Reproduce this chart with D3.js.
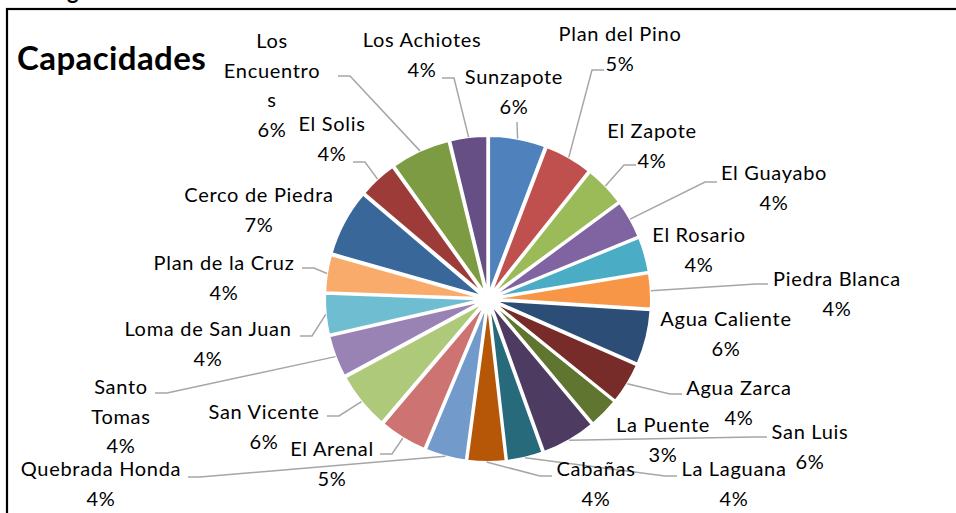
<!DOCTYPE html>
<html>
<head>
<meta http-equiv="Content-Type" content="text/html; charset=UTF-8">
<style>
  body { margin: 0; background: #fff; }
  svg text { font-family: Lato, "Open Sans", sans-serif; fill: #000; }
</style>
</head>
<body>
<svg width="956" height="513"></svg>
<script src="https://cdn.jsdelivr.net/npm/d3@7"></script>
<script>

// slices, clockwise from 12 o'clock
var names = ["Sunzapote", "Plan del Pino", "El Zapote", "El Guayabo", "El Rosario",
    "Piedra Blanca", "Agua Caliente", "Agua Zarca", "La Puente", "San Luis",
    "La Laguana", "Cabañas", "Quebrada Honda", "El Arenal", "San Vicente",
    "Santo Tomas", "Loma de San Juan", "Plan de la Cruz", "Cerco de Piedra",
    "El Solis", "Los Encuentros", "Los Achiotes"];

var values = [5.8, 4.9, 4.2, 3.9, 3.6, 3.6, 5.6, 4.2, 3.1, 5.6, 3.7,
    3.9, 4.2, 4.9, 5.9, 4.3, 4.2, 3.8, 6.8, 3.9, 6.1, 3.8];

// how the label text wraps (Excel label box)
var labelLines = {
    "Los Encuentros": ["Los", "Encuentro", "s"],
    "Santo Tomas": ["Santo", "Tomas"]
};

var colors = ["#4f81bd", "#c0504d", "#9bbb59", "#8064a2", "#4bacc6", "#f79646",
    "#2c4d75", "#772c2a", "#5f7530", "#4d3b62", "#276a7c", "#b65708",
    "#729aca", "#cd7371", "#afc97a", "#9983b5", "#6fbdd1", "#f9ab6b",
    "#3a6799", "#9c3b38", "#7d9b42", "#654f84"];

// label boxes were placed by hand: centre x, middle of first line
var labelPos = [[514, 77], [620, 34], [652, 131], [774, 173], [699, 235],
    [837, 279], [726, 319], [739, 388], [663, 425], [810, 432],
    [734, 469], [596, 469], [101, 469], [332, 449], [264, 412],
    [121, 387], [208, 329], [224, 263], [259, 195], [332, 124],
    [272, 41], [422, 40]];

// leader line end next to the label: x, y, side of elbow (null = no leader)
var leaderEnd = [[517, 122, 0], [604, 70, -1], [636, 165, -1], [717, 182, -1], null,
    [768, 284, -1], null, [682, 394, -1], null, [767, 437, -1],
    [677, 476, -1], [552, 476, -1], [188, 477, 1], [380, 454, 1], [327, 416, 1],
    [155, 393, 1], [300, 336, 1], [302, 268, 1], null, [353, 162, 1],
    [338, 76, 1], [442, 78, 1]];

var svg = d3.select("svg"),
    cx = 488, cy = 299,
    radius = 157,
    explode = 6,
    lineH = 29.5;

var total = d3.sum(values),
    pct = d3.format(".0%");

// chart frame (runs off the right and bottom of the shot)
svg.append("rect")
    .attr("x", 7).attr("y", 9)
    .attr("width", 980).attr("height", 540)
    .style("fill", "none")
    .style("stroke", "#000")
    .style("stroke-width", 2.2);

// descender of the figure caption above the frame
svg.append("text")
    .attr("x", 67).attr("y", -1)
    .style("font-weight", "bold")
    .style("font-size", "22px")
    .text("g");

svg.append("text")
    .attr("x", 17).attr("y", 70)
    .style("font-weight", "bold")
    .style("font-size", "33px")
    .style("letter-spacing", "0.4px")
    .text("Capacidades");

var pie = d3.pie().sort(null).value(function(d) { return d; });
var arc = d3.arc().innerRadius(0).outerRadius(radius);

var arcs = pie(values);

function mid(d) { return (d.startAngle + d.endAngle) / 2; }

var g = svg.append("g")
    .attr("transform", "translate(" + cx + "," + cy + ")");

g.selectAll(".slice")
    .data(arcs)
    .enter().append("path")
      .attr("class", "slice")
      .attr("transform", function(d) {
        var a = mid(d);
        return "translate(" + (explode * Math.sin(a)) + "," + (-explode * Math.cos(a)) + ")";
      })
      .attr("d", arc)
      .style("fill", function(d, i) { return colors[i]; })
      .style("stroke", "#fff")
      .style("stroke-width", 2);

// leader lines
var leaders = svg.append("g");
arcs.forEach(function(d, i) {
    var end = leaderEnd[i];
    if (!end) return;
    var a = mid(d),
        r = radius + explode,
        sx = cx + r * Math.sin(a),
        sy = cy - r * Math.cos(a);
    var pts = [[sx, sy], [end[0] + end[2] * 12, end[1]], [end[0], end[1]]];
    leaders.append("path")
        .attr("d", d3.line()(pts))
        .style("fill", "none")
        .style("stroke", "#a6a6a6")
        .style("stroke-width", 1.5);
});

// labels
var labels = svg.append("g")
    .style("font-size", "20px")
    .style("letter-spacing", "0.7px")
    .style("text-anchor", "middle");

arcs.forEach(function(d, i) {
    var name = names[i],
        lines = (labelLines[name] || [name]).concat([pct(values[i] / total)]),
        p = labelPos[i];
    lines.forEach(function(s, k) {
        labels.append("text")
            .attr("x", p[0])
            .attr("y", p[1] + k * lineH + 7)
            .text(s);
    });
});

</script>
</body></html>
